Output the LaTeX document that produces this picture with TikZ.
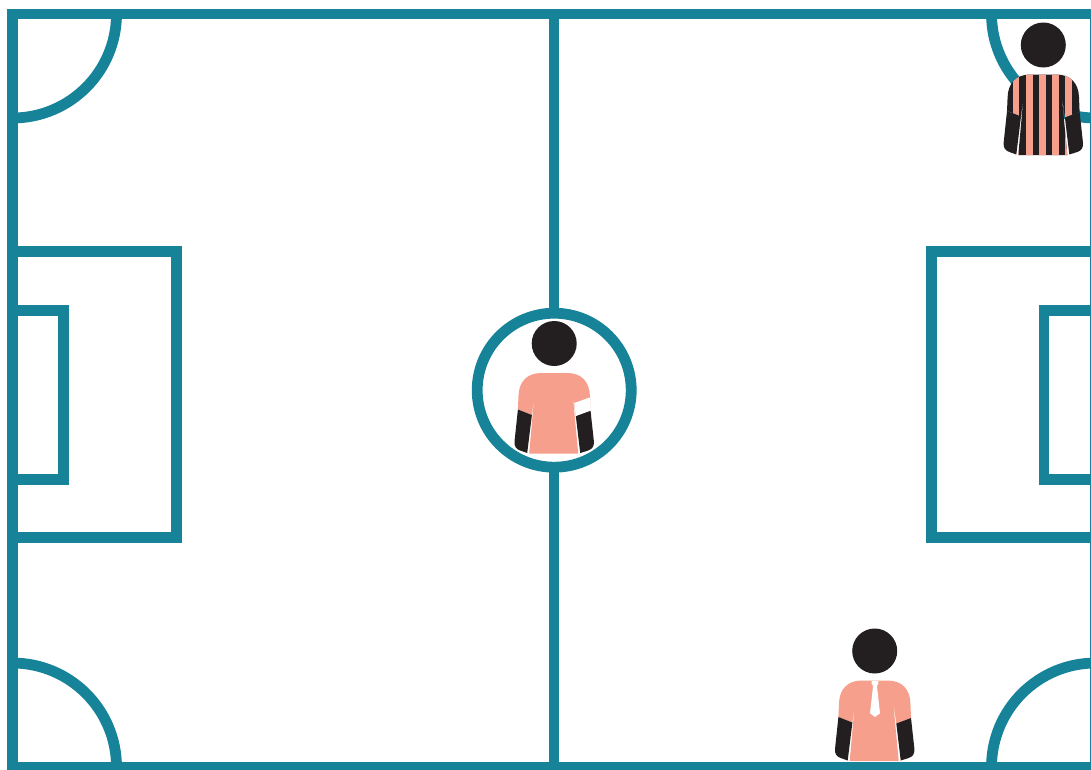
\documentclass[tikz,border=0pt]{standalone}
\definecolor{pitch}{HTML}{178399}
\definecolor{shirt}{HTML}{F69F8C}
\definecolor{ink}{HTML}{231F20}
\def\shirtoutline{(-25,110) -- (-19.7,50) -- (-22.3,71.5) -- (-36.3,66) -- (-35.7,52)
  .. controls (-35.2,38) and (-27,29.5) .. (-13,29.5) -- (13,29.5)
  .. controls (27,29.5) and (35.2,38) .. (35.7,52) -- (36.3,67) -- (21.6,72.5) -- (18.4,50) -- (24,110) -- cycle}
\def\cuffleft{(-36.3,66) -- (-22.3,71.5) -- (-27,109.5) -- (-34,107)
  .. controls (-38,105.5) and (-40,103) .. (-39.7,98) -- cycle}
\def\cuffright{(36.3,67) -- (21.6,72.5) -- (26,109.5) -- (34,107)
  .. controls (38,105.5) and (40,103) .. (39.7,98) -- cycle}
\tikzset{
  x=1pt, y=-1pt,
  pitchline/.style={draw=pitch, line width=10.8pt, miter limit=10},
  captain/.pic={
    \fill[ink] (0,0) circle[radius=22.5pt];
    \fill[shirt] \shirtoutline;
    \fill[ink] \cuffleft;
    \fill[ink] \cuffright;
    \fill[white] (20,59.5) -- (35.5,54) -- (36.6,67) -- (21.6,72.5) -- cycle;
  },
  manager/.pic={
    \fill[ink] (0,0) circle[radius=22.5pt];
    \fill[shirt] \shirtoutline;
    \fill[ink] \cuffleft;
    \fill[ink] \cuffright;
    \fill[white] (-3,30) -- (3.6,30) -- (3.6,33) -- (2.2,34.7) -- (5.3,62.3) -- (0.3,66) -- (-4.7,62.3) -- (-1.6,34.7) -- (-3,33) -- cycle;
  },
  referee/.pic={
    \fill[ink] (0,0) circle[radius=22.5pt];
    \fill[ink] \shirtoutline;
    \begin{scope}
      \clip \shirtoutline;
      \foreach \sx in {-30.6,-17.3,-4.3,8.7,21.7}
        \fill[shirt] (\sx,25) rectangle ++(6.7,90);
    \end{scope}
    \fill[ink] \cuffleft;
    \fill[ink] \cuffright;
  }
}
\begin{document}
\begin{tikzpicture}
  \useasboundingbox (0,0) rectangle (1091,769);
  \clip (0,0) rectangle (1091,769);
  \fill[white] (0,0) rectangle (1091,769);
  % corner arcs, kept inside the frame
  \begin{scope}
    \clip (12.5,14) rectangle (1095.5,767);
    \draw[pitchline] (12.5,14) circle[radius=104pt];
    \draw[pitchline] (12.5,767) circle[radius=104pt];
    \draw[pitchline] (1095.5,14) circle[radius=104pt];
    \draw[pitchline] (1095.5,767) circle[radius=104pt];
  \end{scope}
  % boundary and halfway line
  \draw[pitchline] (12.5,14) rectangle (1095.5,767);
  \coordinate (midtop) at (553.9,14);
  \coordinate (midbottom) at (553.9,767);
  \draw[pitchline] (midtop) -- (midbottom);
  % penalty and goal areas
  \draw[pitchline] (12.5,251.7) -- (176.8,251.7) -- (176.8,537.8) -- (12.5,537.8);
  \draw[pitchline] (12.5,310.7) -- (63.7,310.7) -- (63.7,479.3) -- (12.5,479.3);
  \draw[pitchline] (1095.5,251.7) -- (931.2,251.7) -- (931.2,537.8) -- (1095.5,537.8);
  \draw[pitchline] (1095.5,310.7) -- (1044,310.7) -- (1044,479.3) -- (1095.5,479.3);
  % centre circle
  \draw[pitchline, fill=white] (554.2,390.2) circle[radius=77pt];
  % figures
  \pic at (554.2,343.5) {captain};
  \pic at (874.7,651) {manager};
  \pic at (1043.3,45) {referee};
\end{tikzpicture}
\end{document}
